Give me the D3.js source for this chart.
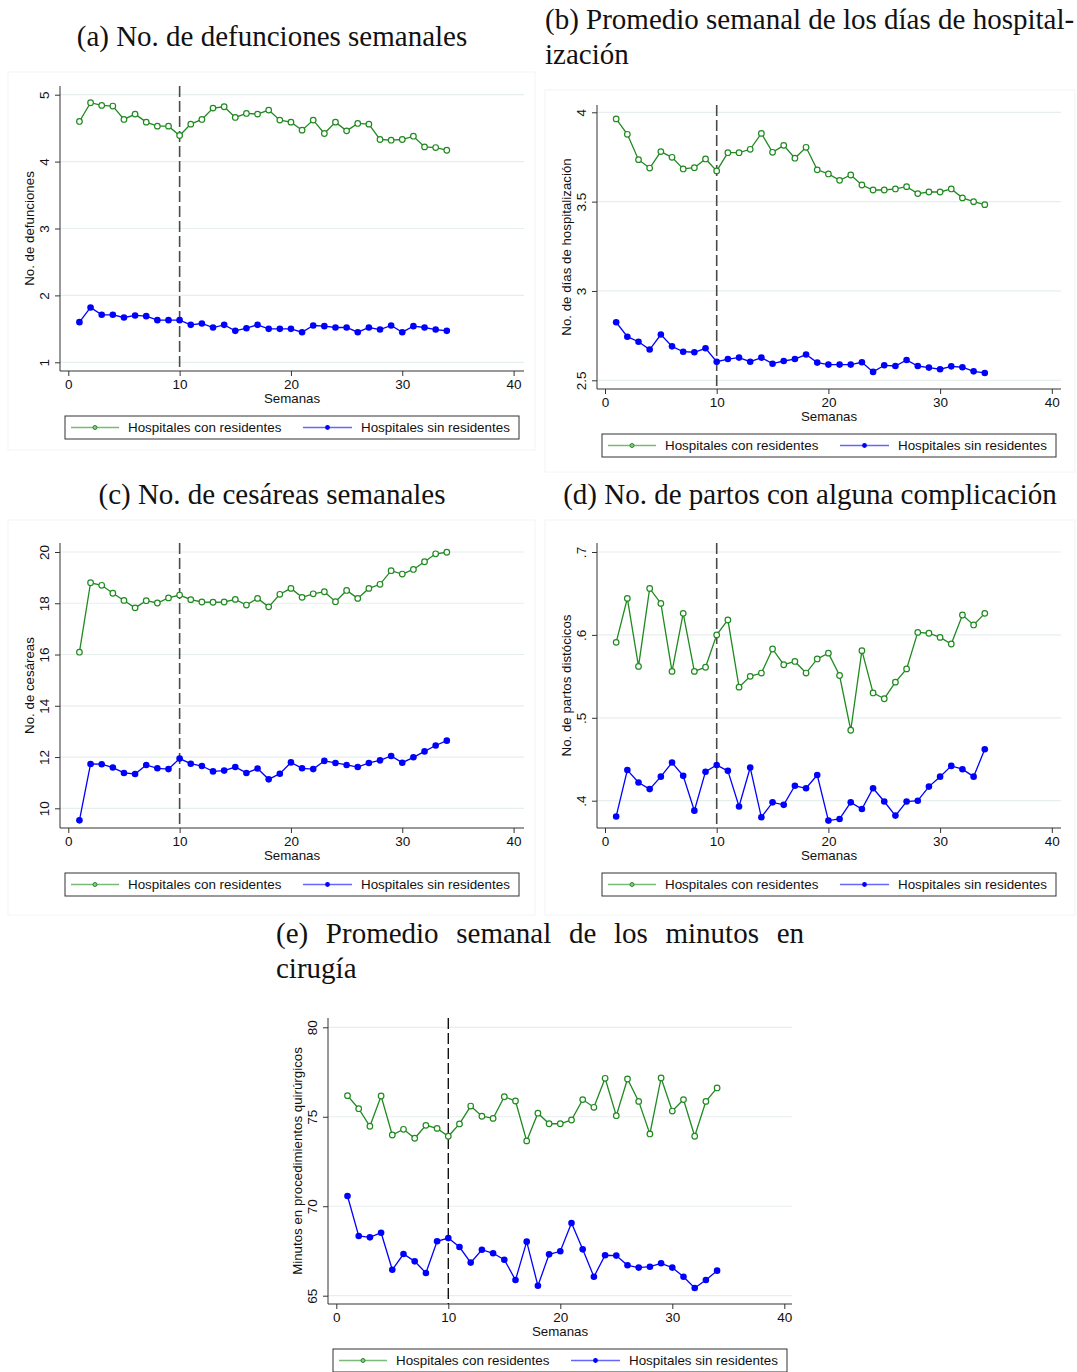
<!DOCTYPE html>
<html>
<head>
<meta charset="utf-8">
<script src="https://cdn.jsdelivr.net/npm/d3@7"></script>
<style>
  html, body { margin: 0; padding: 0; background: #fff; }
  svg { display: block; }
</style>
</head>
<body>
<svg id="fig" width="1077" height="1372"></svg>
<script>
// Semanas de observación
const weeks = [1,2,3,4,5,6,7,8,9,10,11,12,13,14,15,16,17,18,19,20,21,22,23,24,25,26,27,28,29,30,31,32,33,34];
const xTicks = [0, 10, 20, 30, 40];
const cutoffWeek = 10;
const seriesNames = ["Hospitales con residentes", "Hospitales sin residentes"];

// (a) Defunciones semanales
const deathsWith = [4.60,4.88,4.84,4.83,4.63,4.71,4.59,4.53,4.53,4.39,4.56,4.63,4.80,4.82,4.66,4.72,4.71,4.77,4.62,4.59,4.47,4.62,4.42,4.59,4.46,4.57,4.56,4.33,4.32,4.33,4.38,4.22,4.21,4.17];
const deathsWithout = [1.60,1.82,1.71,1.71,1.67,1.70,1.69,1.63,1.63,1.63,1.56,1.58,1.52,1.56,1.47,1.51,1.56,1.50,1.50,1.50,1.45,1.55,1.54,1.52,1.52,1.45,1.52,1.49,1.55,1.45,1.54,1.52,1.49,1.47];
const deathsTicks = [1, 2, 3, 4, 5];
const deathsTickLabels = ["1", "2", "3", "4", "5"];

// (b) Días de hospitalización
const staysWith = [3.963,3.877,3.735,3.688,3.780,3.748,3.683,3.690,3.739,3.672,3.774,3.774,3.793,3.882,3.776,3.815,3.743,3.804,3.678,3.655,3.619,3.649,3.593,3.565,3.565,3.571,3.584,3.545,3.554,3.554,3.571,3.521,3.500,3.483];
const staysWithout = [2.825,2.744,2.716,2.672,2.756,2.690,2.660,2.657,2.679,2.604,2.619,2.627,2.604,2.627,2.593,2.608,2.619,2.644,2.599,2.588,2.588,2.588,2.601,2.547,2.584,2.580,2.614,2.580,2.571,2.562,2.578,2.573,2.550,2.541];
const staysTicks = [2.5, 3, 3.5, 4];
const staysTickLabels = ["2.5", "3", "3.5", "4"];

// (c) Cesáreas semanales
const cesWith = [16.09,18.80,18.70,18.39,18.11,17.82,18.10,18.01,18.21,18.32,18.14,18.05,18.04,18.05,18.15,17.93,18.19,17.86,18.35,18.58,18.23,18.37,18.45,18.06,18.50,18.19,18.58,18.74,19.27,19.14,19.32,19.62,19.93,19.99];
const cesWithout = [9.53,11.73,11.72,11.59,11.38,11.34,11.69,11.56,11.53,11.94,11.74,11.65,11.44,11.47,11.61,11.38,11.55,11.13,11.35,11.79,11.56,11.53,11.85,11.77,11.69,11.61,11.77,11.87,12.04,11.78,11.99,12.22,12.45,12.64];
const cesTicks = [10, 12, 14, 16, 18, 20];
const cesTickLabels = ["10", "12", "14", "16", "18", "20"];

// (d) Partos distócicos
const compWith = [0.591,0.644,0.562,0.656,0.638,0.556,0.626,0.556,0.561,0.600,0.618,0.537,0.550,0.554,0.583,0.564,0.568,0.554,0.571,0.578,0.551,0.485,0.581,0.530,0.523,0.543,0.559,0.603,0.602,0.597,0.589,0.624,0.612,0.626];
const compWithout = [0.381,0.437,0.422,0.414,0.429,0.446,0.430,0.388,0.435,0.443,0.436,0.393,0.440,0.380,0.398,0.395,0.418,0.415,0.431,0.376,0.378,0.398,0.390,0.415,0.399,0.382,0.399,0.400,0.417,0.429,0.442,0.438,0.429,0.462];
const compTicks = [0.4, 0.5, 0.6, 0.7];
const compTickLabels = [".4", ".5", ".6", ".7"];

// (e) Minutos en cirugía
const surgWith = [76.18,75.45,74.47,76.16,73.98,74.30,73.80,74.52,74.35,73.91,74.60,75.60,75.03,74.91,76.12,75.88,73.65,75.20,74.61,74.61,74.82,75.96,75.53,77.15,75.06,77.11,75.86,74.04,77.17,75.32,75.96,73.91,75.86,76.61];
const surgWithout = [70.57,68.34,68.26,68.52,66.45,67.33,66.92,66.27,68.04,68.22,67.72,66.85,67.57,67.37,67.01,65.88,68.02,65.56,67.31,67.48,69.06,67.59,66.06,67.26,67.24,66.70,66.57,66.62,66.81,66.57,66.06,65.43,65.88,66.40];
const surgTicks = [65, 70, 75, 80];
const surgTickLabels = ["65", "70", "75", "80"];

const GREEN = "#1f8a1f";
const BLUE = "#0000ff";
const SANS = "'Liberation Sans', Arial, sans-serif";
const SERIF = "'Liberation Serif', 'Times New Roman', serif";
const TITLE_SIZE = 29;

const svg = d3.select("#fig");

// faint outlines of the graph regions
const regions = [
  {x: 8, y: 72, w: 527, h: 378},
  {x: 545, y: 90, w: 530, h: 382},
  {x: 8, y: 520, w: 527, h: 395},
  {x: 545, y: 520, w: 530, h: 395}
];
svg.selectAll("rect.region").data(regions).join("rect")
  .attr("class", "region")
  .attr("x", d => d.x).attr("y", d => d.y)
  .attr("width", d => d.w).attr("height", d => d.h)
  .attr("fill", "none").attr("stroke", "#f2f4f4").attr("stroke-width", 1);

function panel(cfg) {
  const g = svg.append("g");
  // plot region frame: left (axis x), top, right, bottom (axis y)
  const L = cfg.left, T = cfg.top, R = cfg.right, B = cfg.bottom;
  const x = d3.scaleLinear().domain([0, 40]).range([cfg.x0, cfg.x40]);
  const y = d3.scaleLinear().domain([cfg.yLo, cfg.yHi]).range([cfg.yLoPx, cfg.yHiPx]);

  // gridlines
  g.selectAll("line.grid").data(cfg.yTicks).join("line")
    .attr("x1", L).attr("x2", R)
    .attr("y1", d => y(d)).attr("y2", d => y(d))
    .attr("stroke", "#e7eeee").attr("stroke-width", 1.2);

  // y axis
  const yAxis = d3.axisLeft(y).tickValues(cfg.yTicks)
    .tickFormat((d, i) => cfg.yTickLabels[i]).tickSize(5).tickPadding(6);
  const ya = g.append("g").attr("transform", `translate(${L},0)`).call(yAxis);
  ya.select(".domain").attr("d", `M0,${T}V${B}`).attr("stroke", "#333");
  ya.selectAll(".tick line").attr("stroke", "#333");
  ya.selectAll(".tick text")
    .attr("x", 0).attr("dy", null)
    .attr("transform", `translate(-11,0) rotate(-90)`)
    .attr("text-anchor", "middle")
    .attr("font-family", SANS).attr("font-size", 13.5).attr("fill", "#111");

  // x axis
  const xAxis = d3.axisBottom(x).tickValues(xTicks).tickSize(5).tickPadding(3);
  const xa = g.append("g").attr("transform", `translate(0,${B})`).call(xAxis);
  xa.select(".domain").attr("d", `M${L},0H${R}`).attr("stroke", "#333");
  xa.selectAll(".tick line").attr("stroke", "#333");
  xa.selectAll(".tick text").attr("font-family", SANS).attr("font-size", 13.5).attr("fill", "#111");

  g.append("text").attr("x", (L + R) / 2).attr("y", B + 32)
    .attr("text-anchor", "middle").attr("font-family", SANS).attr("font-size", 13.3)
    .attr("fill", "#111").text("Semanas");

  g.append("text")
    .attr("transform", `translate(${L - 26},${(T + B) / 2}) rotate(-90)`)
    .attr("text-anchor", "middle").attr("font-family", SANS).attr("font-size", 13.3)
    .attr("fill", "#111").text(cfg.yTitle);

  // reference line at the cutoff week
  g.append("line")
    .attr("x1", x(cutoffWeek)).attr("x2", x(cutoffWeek))
    .attr("y1", T).attr("y2", B)
    .attr("stroke", cfg.refColor || "#4a4a4a").attr("stroke-width", cfg.refWidth || 1.6)
    .attr("stroke-dasharray", "11,4");

  const line = d3.line().x(d => x(d[0])).y(d => y(d[1]));
  const s1 = weeks.map((w, i) => [w, cfg.with[i]]);
  const s2 = weeks.map((w, i) => [w, cfg.without[i]]);

  g.append("path").datum(s1).attr("d", line)
    .attr("fill", "none").attr("stroke", GREEN).attr("stroke-width", 1.3);
  g.selectAll("circle.g").data(s1).join("circle")
    .attr("cx", d => x(d[0])).attr("cy", d => y(d[1])).attr("r", 2.8)
    .attr("fill", "#fff").attr("stroke", GREEN).attr("stroke-width", 1.2);

  g.append("path").datum(s2).attr("d", line)
    .attr("fill", "none").attr("stroke", BLUE).attr("stroke-width", 1.3);
  g.selectAll("circle.b").data(s2).join("circle")
    .attr("cx", d => x(d[0])).attr("cy", d => y(d[1])).attr("r", 3.3)
    .attr("fill", BLUE);

  // legend
  const cx = (L + R) / 2;
  const ly = B + 45;
  const lg = g.append("g");
  lg.append("rect").attr("x", cx - 227).attr("y", ly).attr("width", 454).attr("height", 23)
    .attr("fill", "#fff").attr("stroke", "#333").attr("stroke-width", 1);
  const items = [
    {x1: cx - 221, x2: cx - 173, color: GREEN, hollow: true, tx: cx - 164, name: seriesNames[0]},
    {x1: cx + 11, x2: cx + 60, color: BLUE, hollow: false, tx: cx + 69, name: seriesNames[1]}
  ];
  items.forEach(it => {
    lg.append("line").attr("x1", it.x1).attr("x2", it.x2).attr("y1", ly + 11.5).attr("y2", ly + 11.5)
      .attr("stroke", it.color).attr("stroke-width", 1.5).attr("stroke-opacity", 0.6);
    lg.append("circle").attr("cx", (it.x1 + it.x2) / 2).attr("cy", ly + 11.5)
      .attr("r", it.hollow ? 2 : 2.4)
      .attr("fill", it.hollow ? "#8bc98b" : BLUE).attr("stroke", it.color).attr("stroke-width", it.hollow ? 1 : 0);
    lg.append("text").attr("x", it.tx).attr("y", ly + 16)
      .attr("font-family", SANS).attr("font-size", 13.4).attr("fill", "#111").text(it.name);
  });
}

function title(lines, xpos, anchor) {
  lines.forEach(l => {
    svg.append("text").attr("x", xpos).attr("y", l.y).attr("text-anchor", anchor)
      .attr("font-family", SERIF).attr("font-size", TITLE_SIZE).attr("fill", "#111").text(l.t);
  });
}

// justified title line: words spread across a fixed width
function justified(words, xStart, xEnd, yPos) {
  const tmp = words.map(w => svg.append("text").attr("font-family", SERIF).attr("font-size", TITLE_SIZE)
    .attr("fill", "#111").attr("y", yPos).text(w));
  const widths = tmp.map(t => t.node().getComputedTextLength());
  const total = d3.sum(widths);
  const gap = (xEnd - xStart - total) / (words.length - 1);
  let cur = xStart;
  tmp.forEach((t, i) => { t.attr("x", cur); cur += widths[i] + gap; });
}

title([{t: "(a) No. de defunciones semanales", y: 46}], 272, "middle");
title([{t: "(b) Promedio semanal de los días de hospital-", y: 29}, {t: "ización", y: 64}], 545, "start");
title([{t: "(c) No. de cesáreas semanales", y: 504}], 272, "middle");
title([{t: "(d) No. de partos con alguna complicación", y: 504}], 810, "middle");
justified(["(e)", "Promedio", "semanal", "de", "los", "minutos", "en"], 276, 804, 943);
title([{t: "cirugía", y: 978}], 276, "start");

panel({left: 60, right: 524, top: 86, bottom: 371, x0: 68.3, x40: 513.6,
  yLo: 1, yHi: 5, yLoPx: 362.3, yHiPx: 94.7,
  yTicks: deathsTicks, yTickLabels: deathsTickLabels, yTitle: "No. de defunciones",
  with: deathsWith, without: deathsWithout});

panel({left: 597, right: 1061, top: 105, bottom: 389, x0: 605, x40: 1051.8,
  yLo: 2.5, yHi: 4, yLoPx: 380.3, yHiPx: 112.3,
  yTicks: staysTicks, yTickLabels: staysTickLabels, yTitle: "No. de días de hospitalización",
  with: staysWith, without: staysWithout});

panel({left: 60, right: 524, top: 543, bottom: 828, x0: 68.3, x40: 513.6,
  yLo: 10, yHi: 20, yLoPx: 808.3, yHiPx: 552,
  yTicks: cesTicks, yTickLabels: cesTickLabels, yTitle: "No. de cesáreas",
  with: cesWith, without: cesWithout});

panel({left: 597, right: 1061, top: 543, bottom: 828, x0: 605, x40: 1051.8,
  yLo: 0.4, yHi: 0.7, yLoPx: 800.7, yHiPx: 552,
  yTicks: compTicks, yTickLabels: compTickLabels, yTitle: "No. de partos distócicos",
  with: compWith, without: compWithout});

panel({left: 328, right: 792, top: 1018, bottom: 1304, x0: 336.3, x40: 784.3,
  yLo: 65, yHi: 80, yLoPx: 1295.7, yHiPx: 1027.3,
  yTicks: surgTicks, yTickLabels: surgTickLabels, yTitle: "Minutos en procedimientos quirúrgicos",
  with: surgWith, without: surgWithout, refColor: "#111", refWidth: 1.4});
</script>
</body>
</html>
